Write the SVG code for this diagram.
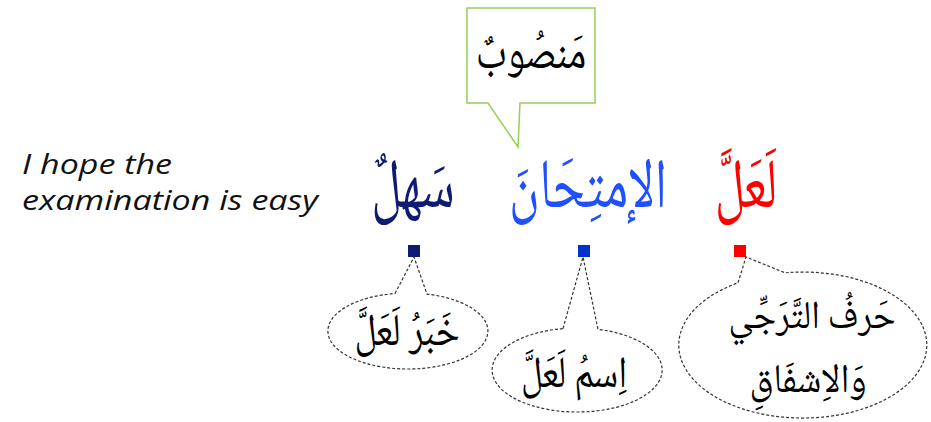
<svg xmlns="http://www.w3.org/2000/svg" width="931" height="422" viewBox="0 0 931 422">
<style>
.ar{font-family:"Noto Naskh Arabic","Amiri","Noto Sans Arabic","DejaVu Sans",serif;text-anchor:middle}
.en{font-family:"Open Sans","Noto Sans",sans-serif;font-style:italic;font-size:28px;fill:#111}
.bub{fill:#fff;stroke:#333;stroke-width:1.2;stroke-dasharray:3 2}
.sq{stroke:none}
</style>
<rect width="931" height="422" fill="#fff"/>
<g id="translation">
<text class="en" x="22" y="174" textLength="150" lengthAdjust="spacingAndGlyphs">I hope the</text>
<text class="en" x="22" y="210" textLength="296" lengthAdjust="spacingAndGlyphs">examination is easy</text>
</g>
<g id="word-sahl">
<text class="ar" transform="translate(413,207) scale(0.95,1.3)" font-size="54" fill="#0f1a73">سَهلٌ</text>
<rect class="sq" x="408" y="245" width="12" height="12" fill="#0f1a73"/>
</g>
<g id="word-imtihan">
<text class="ar" transform="translate(588,207) scale(0.95,1.3)" font-size="54" fill="#1f4fff">الإمتِحَانَ</text>
<rect class="sq" x="578" y="245" width="12" height="12" fill="#0033cc"/>
</g>
<g id="word-laalla">
<text class="ar" transform="translate(746,207) scale(0.95,1.3)" font-size="54" fill="#ff0000">لَعَلَّ</text>
<rect class="sq" x="734" y="245" width="12" height="12" fill="#ff0000"/>
</g>
<g id="mansub">
<path d="M467,8 H595 V103 H520 L518,147 L488,103 H467 Z" fill="#fff" stroke="#92d050" stroke-width="1.5"/>
<text class="ar" transform="translate(531,68) scale(1,1.2)" font-size="40" fill="#000">مَنصُوبٌ</text>
</g>
<g id="connectors">
<path id="bubble-khabar" class="bub" d="M395,293.5 L414,257 L427,294.1 A80 38 0 1 1 395,293.5 Z"/>
<path id="bubble-ism" class="bub" d="M563,328.6 L583,257 L598,329.3 A85 42 0 1 1 563,328.6 Z"/>
<path id="bubble-harf" class="bub" d="M738,282.8 L746,257 L785,272.8 A124 73 0 1 1 738,282.8 Z"/>
</g>
<g id="label-khabar">
<text class="ar" transform="translate(407,345) scale(1,1.2)" font-size="38" fill="#000">خَبَرُ لَعَلَّ</text>
</g>
<g id="label-ism">
<text class="ar" transform="translate(574,387) scale(1,1.2)" font-size="37" fill="#000">اِسمُ لَعَلَّ</text>
</g>
<g id="label-harf">
<text class="ar" transform="translate(812,328) scale(1,1.1)" font-size="36" fill="#000">حَرفُ التَّرَجِّي</text>
<text class="ar" transform="translate(808,392) scale(1,1.1)" font-size="37" fill="#000">وَالاِشفَاقِ</text>
</g>
</svg>
